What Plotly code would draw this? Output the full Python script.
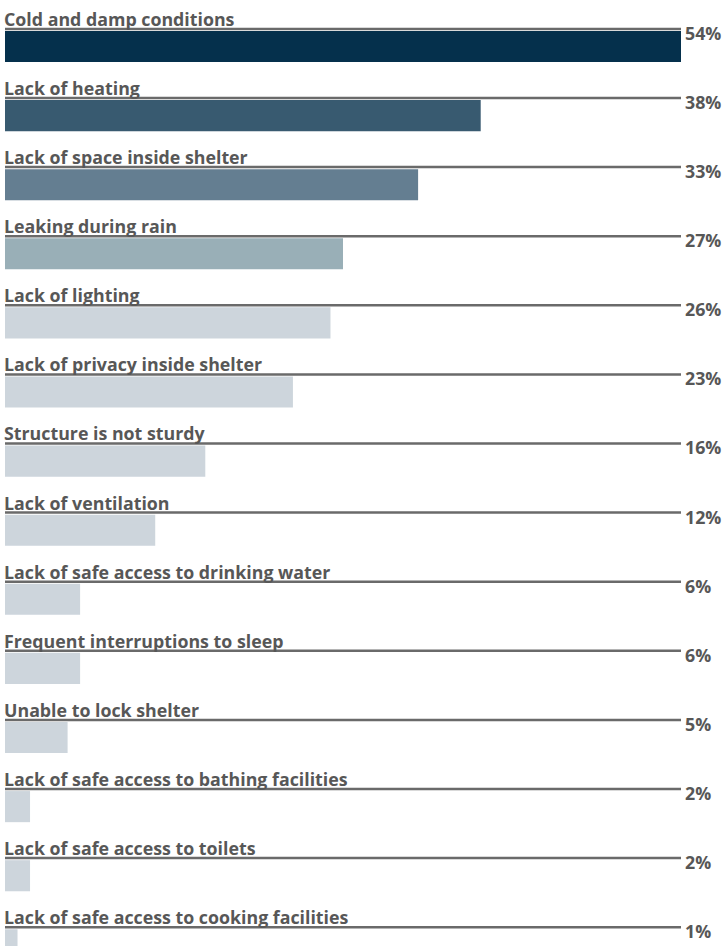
import plotly.graph_objects as go

# Reported shelter problems, share of respondents (%)
categories = [
    "Cold and damp conditions",
    "Lack of heating",
    "Lack of space inside shelter",
    "Leaking during rain",
    "Lack of lighting",
    "Lack of privacy inside shelter",
    "Structure is not sturdy",
    "Lack of ventilation",
    "Lack of safe access to drinking water",
    "Frequent interruptions to sleep",
    "Unable to lock shelter",
    "Lack of safe access to bathing facilities",
    "Lack of safe access to toilets",
    "Lack of safe access to cooking facilities",
]
values = [54, 38, 33, 27, 26, 23, 16, 12, 6, 6, 5, 2, 2, 1]
value_labels = ["54%", "38%", "33%", "27%", "26%", "23%", "16%", "12%",
                "6%", "6%", "5%", "2%", "2%", "1%"]
bar_colors = ["#05304c", "#385a70", "#647e91", "#99afb7"] + ["#cdd5dc"] * 10

TEXT = "#575757"
RULE = "#6a6a6a"
FONT = "Open Sans"
BAR_W = 0.45

rows = list(range(len(categories)))
x_max = max(values)

fig = go.Figure(
    go.Bar(
        x=values,
        y=rows,
        orientation="h",
        width=BAR_W,
        marker=dict(color=bar_colors, line=dict(width=0)),
        hoverinfo="skip",
    )
)

for i, (cat, lab) in enumerate(zip(categories, value_labels)):
    rule_y = i - BAR_W / 2 - 0.03
    # grey rule running under the label, across the full scale
    fig.add_shape(
        type="line", xref="x", yref="y",
        x0=0, x1=x_max, y0=rule_y, y1=rule_y,
        line=dict(color=RULE, width=2.5),
        layer="above",
    )
    # category label sitting on the rule
    fig.add_annotation(
        x=0, y=rule_y, xref="x", yref="y",
        text=f"<b>{cat}</b>", showarrow=False,
        xanchor="left", yanchor="bottom", xshift=-3, yshift=-4,
        font=dict(family=FONT, size=17.8, color=TEXT),
    )
    # value at the end of the rule
    fig.add_annotation(
        x=x_max, y=rule_y, xref="x", yref="y",
        text=f"<b>{lab}</b>", showarrow=False,
        xanchor="left", yanchor="middle", xshift=2, yshift=-4,
        font=dict(family=FONT, size=17.8, color=TEXT),
    )

fig.update_layout(
    width=725, height=946,
    margin=dict(l=5, r=44, t=0, b=0),
    paper_bgcolor="white", plot_bgcolor="white",
    showlegend=False,
    xaxis=dict(range=[0, x_max], visible=False, fixedrange=True),
    yaxis=dict(range=[13.017, -0.673], visible=False, fixedrange=True),
)

fig.write_html("out.html", config={"displayModeBar": False})
